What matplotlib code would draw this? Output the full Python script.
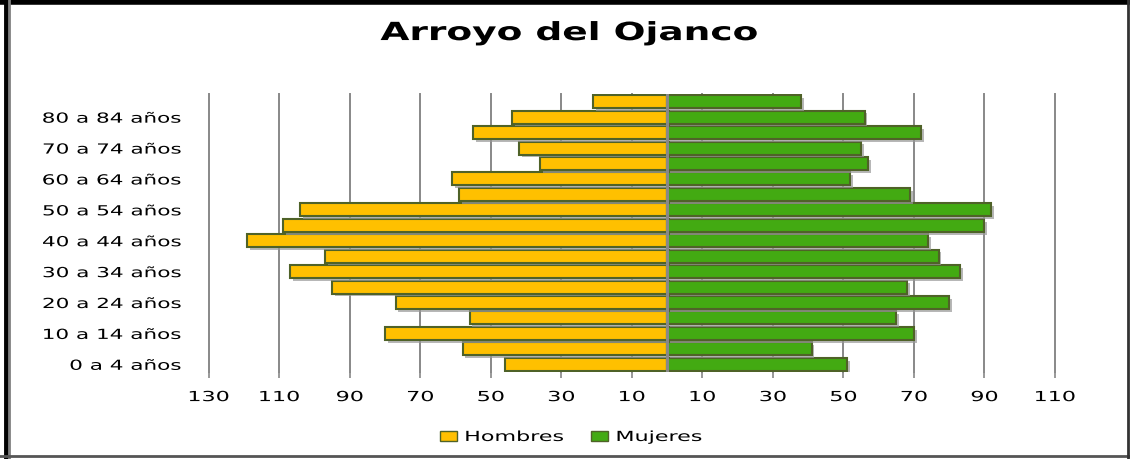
import matplotlib
matplotlib.use("Agg")
import matplotlib.pyplot as plt
import matplotlib.patheffects as pe
from matplotlib.patheffects import AbstractPathEffect
from matplotlib.transforms import Affine2D
from matplotlib.patches import Patch
from matplotlib.lines import Line2D

# age groups, bottom to top
grupos = ["0 a 4 años", "5 a 9 años", "10 a 14 años", "15 a 19 años",
          "20 a 24 años", "25 a 29 años", "30 a 34 años", "35 a 39 años",
          "40 a 44 años", "45 a 49 años", "50 a 54 años", "55 a 59 años",
          "60 a 64 años", "65 a 69 años", "70 a 74 años", "75 a 79 años",
          "80 a 84 años", "85 y más años"]
hombres = [46, 58, 80, 56, 77, 95, 107, 97, 119, 109, 104, 59, 61, 36, 42, 55, 44, 21]
mujeres = [51, 41, 70, 65, 80, 68, 83, 77, 74, 90, 92, 69, 52, 57, 55, 72, 56, 38]
xticks = [-130, -110, -90, -70, -50, -30, -10, 10, 30, 50, 70, 90, 110]

col_h = "#FFC000"
col_m = "#43AA12"
borde = "#4F6228"
gris = "#888888"


class StretchX(AbstractPathEffect):
    # widen text horizontally, the reference font is stretched
    def __init__(self, sx, anchor="center"):
        super().__init__()
        self.sx = sx
        self.anchor = anchor

    def draw_path(self, renderer, gc, tpath, affine, rgbFace=None):
        ext = tpath.get_extents(affine)
        x0 = {"left": ext.x0, "right": ext.x1, "center": (ext.x0 + ext.x1) / 2}[self.anchor]
        t = affine + Affine2D().translate(-x0, 0).scale(self.sx, 1).translate(x0, 0)
        renderer.draw_path(gc, tpath, t, rgbFace)


fig = plt.figure(figsize=(11.3, 4.59), dpi=100)
ax = fig.add_axes([0.1847, 0.1895, 0.7489, 0.6057])

sombra = [pe.SimplePatchShadow(offset=(2, -2), shadow_rgbFace="#999999", alpha=0.7), pe.Normal()]
y = list(range(len(grupos)))
bh = ax.barh(y, [-v for v in hombres], height=0.84, color=col_h, edgecolor=borde, linewidth=1.5, zorder=3)
bm = ax.barh(y, mujeres, height=0.84, color=col_m, edgecolor=borde, linewidth=1.5, zorder=3)
for b in list(bh) + list(bm):
    b.set_path_effects(sombra)

ax.set_xlim(-130, 110)
ax.set_ylim(-0.5, len(grupos) - 0.5)
ax.set_xticks(xticks)
ax.set_xticklabels([str(abs(t)) for t in xticks], fontsize=10)
ax.xaxis.grid(True, color=gris, linewidth=1.4, zorder=0)
for gl in ax.get_xgridlines():
    gl.set_clip_on(False)
ax.axvline(0, color=gris, linewidth=2.2, zorder=4)
ax.tick_params(axis="x", length=4, color=gris, width=1.2, pad=9)

ax.set_yticks(y[::2])
ax.set_yticklabels(grupos[::2], fontsize=10)
ax.tick_params(axis="y", length=0, pad=20)

for s in ax.spines.values():
    s.set_visible(False)

for t in ax.get_xticklabels():
    t.set_path_effects([StretchX(1.6, "center")])
for t in ax.get_yticklabels():
    t.set_path_effects([StretchX(1.55, "right")])

titulo = fig.text(0.504, 0.928, "Arroyo del Ojanco", ha="center", va="center", fontsize=18, fontweight="bold")
titulo.set_path_effects([StretchX(1.5, "center")])

handles = [Patch(facecolor=col_h, edgecolor=borde, label="Hombres"),
           Patch(facecolor=col_m, edgecolor=borde, label="Mujeres")]
leg = fig.legend(handles=handles, loc="center left", bbox_to_anchor=(433 / 1130, 0.048), ncol=2,
                 frameon=False, fontsize=10, borderpad=0, handlelength=1.2, handleheight=0.7,
                 handletextpad=0.6, columnspacing=4.6)
for t in leg.get_texts():
    t.set_path_effects([StretchX(1.6, "left")])

# chart frame
fig.add_artist(Line2D([0, 1], [0.995, 0.995], transform=fig.transFigure, color="black", linewidth=4))
fig.add_artist(Line2D([0.005, 0.005], [0, 1], transform=fig.transFigure, color="black", linewidth=3.5))
fig.add_artist(Line2D([0.008, 0.008], [0, 1], transform=fig.transFigure, color="#808080", linewidth=2))
fig.add_artist(Line2D([0, 1], [0.007, 0.007], transform=fig.transFigure, color="#555555", linewidth=2))
fig.add_artist(Line2D([0.998, 0.998], [0, 1], transform=fig.transFigure, color="#333333", linewidth=2))

fig.savefig("out.png", dpi=100)
